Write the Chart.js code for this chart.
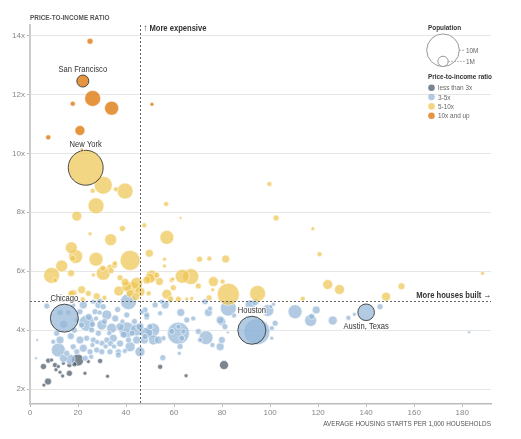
<!DOCTYPE html>
<html>
<head>
<meta charset="utf-8">
<script src="https://cdn.jsdelivr.net/npm/chart.js@4.4.1/dist/chart.umd.min.js"></script>
<style>
  html, body { margin: 0; padding: 0; background: #fff; }
  canvas { display: block; }
</style>
</head>
<body>
<canvas id="housingChart" width="521" height="439"></canvas>
<script>
// tick labels
const xTicks = [0, 20, 40, 60, 80, 100, 120, 140, 160, 180];
const yTicks = [2, 4, 6, 8, 10, 12, 14];

// guide lines drawn as dotted lines
const guideX = 46;
const guideY = 5;

// each point: [housing starts per 1,000 households, price-to-income ratio, population in millions]
const over10 = [
  [25.0, 13.8, 0.34], [26.1, 11.86, 2.4], [34.0, 11.53, 1.85], [17.8, 11.68, 0.24],
  [50.8, 11.66, 0.15], [20.8, 10.77, 0.94], [7.6, 10.54, 0.24], [21.5, 10.12, 0.15]
];

const from5to10 = [
  [30.5, 8.92, 3.05], [39.6, 8.72, 2.4], [26.1, 8.73, 0.24], [35.8, 8.78, 0.24],
  [27.5, 8.22, 2.4], [56.7, 8.28, 0.24], [62.7, 7.81, 0.08], [19.5, 7.87, 0.94],
  [25.0, 7.27, 0.15], [38.5, 7.45, 0.34], [33.6, 7.07, 1.36], [47.6, 7.56, 0.24],
  [57.0, 7.15, 1.85], [17.2, 6.8, 1.36], [19.0, 6.5, 1.85], [17.8, 6.44, 0.34],
  [27.5, 6.41, 1.85], [41.7, 6.37, 3.8], [49.7, 6.61, 0.6], [13.2, 6.18, 1.36],
  [9.0, 5.86, 2.4], [17.1, 5.93, 0.46], [30.5, 5.93, 1.85], [30.3, 6.1, 0.34],
  [33.3, 6.14, 0.34], [35.4, 6.27, 0.24], [26.4, 5.87, 0.15], [37.5, 5.78, 0.34],
  [10.4, 5.7, 0.24], [50.0, 5.76, 0.94], [52.8, 5.87, 0.34], [18.0, 5.25, 0.6],
  [21.5, 5.37, 0.6], [27.8, 5.15, 0.46], [24.3, 5.25, 0.34], [37.0, 5.33, 0.94],
  [40.3, 5.48, 0.94], [42.4, 5.42, 1.85], [45.8, 5.31, 0.94], [41.7, 5.25, 0.6],
  [44.4, 5.59, 1.36], [39.6, 5.63, 0.6], [48.6, 5.7, 0.6], [50.7, 5.84, 1.36],
  [53.9, 5.65, 0.6], [56.0, 6.41, 0.15], [56.0, 6.18, 0.15], [57.0, 5.22, 0.94],
  [59.0, 5.7, 0.24], [63.4, 5.83, 1.85], [67.0, 5.82, 2.4], [70.1, 5.5, 0.34],
  [70.6, 6.41, 0.34], [74.7, 6.43, 0.24], [76.4, 5.65, 0.94], [80.2, 5.65, 0.24],
  [81.5, 6.42, 0.6], [82.6, 5.22, 4.6], [94.8, 5.25, 2.4], [17.4, 5.22, 0.6],
  [33.8, 6.02, 0.34], [35.2, 6.2, 0.34], [44.0, 5.14, 0.6], [58.6, 5.06, 0.34],
  [61.8, 5.05, 0.34], [65.3, 5.06, 0.15], [67.4, 5.08, 0.15], [74.6, 5.1, 0.34],
  [59.7, 5.44, 0.34], [59.5, 5.74, 0.15], [76.1, 5.37, 0.15], [49.4, 5.25, 0.24],
  [102.5, 7.81, 0.34], [99.7, 8.96, 0.24], [117.8, 7.44, 0.15], [120.6, 6.58, 0.24],
  [188.5, 5.93, 0.15], [124.0, 5.55, 0.94], [128.9, 5.38, 0.94], [154.7, 5.49, 0.46],
  [148.3, 5.14, 0.76], [113.6, 5.07, 0.24], [22.0, 5.05, 0.24], [31.0, 5.1, 0.24]
];

const from3to5 = [
  // right of 90
  [94.5, 3.95, 6.4], [110.4, 4.63, 1.85], [119.2, 4.69, 0.6], [116.9, 4.33, 1.36],
  [117.3, 4.47, 0.34], [126.1, 4.33, 0.76], [132.6, 4.42, 0.24], [135.1, 4.54, 0.15],
  [145.8, 4.8, 0.34], [182.9, 3.93, 0.08], [101.4, 4.88, 0.15], [100.3, 4.8, 0.15],
  [99.0, 4.67, 1.36], [102.1, 4.24, 0.34], [100.7, 4.07, 0.24], [100.7, 3.73, 0.15],
  [91.7, 4.86, 0.94], [93.8, 4.95, 0.46],
  // 45 to 90
  [56.3, 4.86, 0.6], [54.2, 4.58, 0.24], [62.8, 4.6, 0.6], [65.3, 4.35, 0.34],
  [72.9, 4.97, 0.34], [74.3, 4.6, 0.6], [75.0, 4.74, 0.24], [82.6, 4.75, 2.4],
  [79.9, 4.29, 0.6], [81.2, 4.12, 0.34], [82.4, 3.92, 0.08], [61.8, 3.9, 4.6],
  [59.0, 3.96, 0.34], [63.2, 3.73, 0.34], [61.8, 4.12, 0.24], [63.9, 3.96, 0.24],
  [70.1, 3.96, 0.34], [73.3, 3.75, 1.85], [70.8, 3.67, 0.24], [51.1, 4.01, 1.85],
  [53.5, 3.67, 0.6], [55.6, 3.73, 0.24], [62.5, 3.45, 0.34], [62.2, 3.22, 0.15],
  [76.0, 3.5, 0.24], [79.9, 3.67, 0.46], [79.2, 3.44, 0.6], [55.3, 3.07, 0.34],
  [47.6, 3.67, 0.6], [48.6, 4.45, 0.34], [46.5, 4.62, 0.24], [54.9, 4.97, 0.24],
  [58.3, 5.0, 0.15], [79.2, 4.35, 0.6], [68.0, 4.4, 0.24], [85.0, 4.5, 0.24],
  // left of 45
  [7.0, 4.82, 0.34], [3.0, 3.67, 0.08], [2.5, 3.05, 0.08], [23.6, 4.24, 2.4],
  [29.9, 4.18, 0.94], [32.0, 4.52, 0.94], [27.1, 4.63, 0.34], [22.2, 4.86, 0.6],
  [28.5, 4.86, 0.46], [30.5, 4.8, 0.34], [34.0, 4.07, 0.94], [37.5, 4.12, 0.6],
  [40.3, 4.01, 2.4], [44.4, 4.01, 1.36], [48.6, 3.9, 1.36], [51.4, 3.67, 0.94],
  [47.9, 3.79, 0.34], [45.8, 4.12, 0.6], [50.0, 4.12, 0.34], [48.6, 4.52, 0.34],
  [47.9, 4.69, 0.34], [52.1, 4.86, 0.34], [44.4, 3.67, 0.6], [41.0, 3.67, 0.34],
  [41.7, 3.44, 0.94], [45.8, 3.27, 0.94], [36.8, 3.27, 0.34], [33.3, 3.27, 0.34],
  [36.8, 3.16, 0.34], [11.8, 3.33, 1.85], [13.9, 3.05, 0.6], [16.7, 3.02, 0.94],
  [15.3, 3.22, 0.34], [18.0, 3.44, 0.34], [12.5, 3.67, 0.6], [9.7, 3.61, 0.24],
  [11.1, 3.9, 0.34], [20.8, 3.67, 0.6], [23.6, 3.73, 0.34], [26.4, 3.67, 0.34],
  [28.5, 3.9, 0.34], [25.7, 4.01, 0.34], [30.0, 3.56, 0.34], [32.0, 3.67, 0.34],
  [34.7, 3.73, 0.6], [22.2, 3.39, 0.6], [25.0, 3.27, 0.34], [27.8, 3.33, 0.34],
  [29.9, 3.27, 0.34], [19.5, 3.27, 0.34], [21.5, 4.18, 0.34], [19.5, 4.35, 0.24],
  [20.8, 4.63, 0.34], [41.0, 4.97, 2.4], [40.3, 4.52, 0.34], [17.0, 3.8, 0.46],
  [18.5, 4.0, 0.34], [16.0, 4.6, 0.24], [24.5, 4.45, 0.46], [26.0, 4.2, 0.34],
  [27.5, 4.4, 0.24], [29.0, 4.6, 0.24], [31.0, 4.3, 0.34], [33.0, 3.9, 0.24],
  [35.5, 4.4, 0.46], [36.5, 4.7, 0.34], [38.5, 4.3, 0.24], [39.0, 3.85, 0.46],
  [42.5, 3.9, 0.34], [43.5, 4.3, 0.34], [26.0, 3.5, 0.24], [28.0, 3.6, 0.24],
  [31.5, 3.45, 0.24], [33.5, 3.55, 0.34], [35.0, 3.45, 0.24], [37.5, 3.55, 0.46],
  [39.5, 3.3, 0.24], [23.0, 3.05, 0.34], [25.5, 3.1, 0.24], [26.3, 4.97, 0.24],
  [29.0, 4.99, 0.34], [12.5, 4.6, 0.34], [14.0, 4.2, 0.6], [18.0, 4.85, 0.24]
];

const lessThan3 = [
  [5.6, 2.77, 0.34], [7.6, 2.97, 0.24], [9.0, 2.99, 0.15], [10.4, 2.82, 0.24],
  [10.8, 2.66, 0.15], [11.8, 2.77, 0.15], [13.9, 2.88, 0.15], [16.4, 2.82, 0.24],
  [18.5, 2.85, 0.24], [19.9, 2.99, 1.36], [16.4, 2.54, 0.34], [13.6, 2.45, 0.15],
  [12.5, 2.58, 0.15], [7.5, 2.26, 0.46], [5.8, 2.14, 0.15], [24.3, 2.94, 0.15],
  [29.2, 2.96, 0.24], [32.3, 2.44, 0.15], [54.2, 2.76, 0.24], [65.0, 2.46, 0.15],
  [80.8, 2.82, 0.76], [22.9, 2.54, 0.15]
];

// labelled metro areas: [name, x, y, population, group, label side]
const cities = [
  ['San Francisco', 22.0, 12.45, 1.36, 'over10', 'above'],
  ['New York', 23.2, 9.51, 11.5, 'from5to10', 'above'],
  ['Chicago', 14.3, 4.41, 7.4, 'from3to5', 'above'],
  ['Houston', 92.4, 4.0, 7.4, 'from3to5', 'above'],
  ['Austin, Texas', 140.0, 4.61, 2.6, 'from3to5', 'below']
];

const colors = {
  lessThan3: 'rgba(72, 86, 100, 0.72)',
  from3to5: 'rgba(145, 181, 215, 0.7)',
  from5to10: 'rgba(238, 196, 78, 0.7)',
  over10: 'rgba(220, 112, 0, 0.75)'
};

const legendItems = [
  ['less than 3x', 'lessThan3'],
  ['3-5x', 'from3to5'],
  ['5-10x', 'from5to10'],
  ['10x and up', 'over10']
];

const FONT = "'Liberation Sans', Arial, sans-serif";
const SQUEEZE = 0.8; // fake a condensed face

// bubble area proportional to population
function radius(pop) {
  return 5.15 * Math.sqrt(pop);
}

function toBubbles(points) {
  return points
    .slice()
    .sort((a, b) => b[2] - a[2]) // big ones first so small ones stay visible
    .map(p => ({ x: p[0], y: p[1], r: radius(p[2]) }));
}

function groupDataset(points, key) {
  return {
    data: toBubbles(points),
    backgroundColor: colors[key],
    borderColor: 'rgba(255, 255, 255, 0.7)',
    borderWidth: 0.8,
    clip: false
  };
}

// condensed text with optional white halo
function label(ctx, text, x, y, align, halo) {
  const w = ctx.measureText(text).width * SQUEEZE;
  let left = x;
  if (align === 'center') left = x - w / 2;
  if (align === 'right') left = x - w;
  ctx.save();
  ctx.translate(left, y);
  ctx.scale(SQUEEZE, 1);
  ctx.textAlign = 'left';
  ctx.textBaseline = 'middle';
  if (halo) {
    ctx.lineWidth = 2.5;
    ctx.strokeStyle = 'rgba(255,255,255,0.85)';
    ctx.strokeText(text, 0, 0);
  }
  ctx.fillText(text, 0, 0);
  ctx.restore();
}

const cityDataset = {
  data: cities.map(c => ({ x: c[1], y: c[2], r: radius(c[3]) })),
  backgroundColor: cities.map(c => colors[c[4]]),
  borderColor: 'rgba(60, 60, 60, 0.9)',
  borderWidth: 1,
  clip: false
};

const decor = {
  id: 'decor',
  afterDatasetsDraw(chart) {
    const ctx = chart.ctx;
    const a = chart.chartArea;
    const x = chart.scales.x;
    const y = chart.scales.y;
    ctx.save();

    // dotted guide lines
    ctx.strokeStyle = '#666';
    ctx.lineWidth = 1;
    ctx.setLineDash([2, 2]);
    const gx = Math.round(x.getPixelForValue(guideX)) + 0.5;
    ctx.beginPath();
    ctx.moveTo(gx, a.top);
    ctx.lineTo(gx, a.bottom);
    ctx.stroke();
    const gy = Math.round(y.getPixelForValue(guideY)) + 0.5;
    ctx.beginPath();
    ctx.moveTo(a.left, gy);
    ctx.lineTo(a.right, gy);
    ctx.stroke();
    ctx.setLineDash([]);

    // guide captions
    ctx.fillStyle = '#333';
    ctx.font = 'bold 9.5px ' + FONT;
    label(ctx, '\u2191 More expensive', gx + 3, a.top + 3.5, 'left');
    label(ctx, 'More houses built \u2192', a.right, gy - 6, 'right');

    // city labels
    ctx.font = '9.5px ' + FONT;
    cities.forEach(c => {
      const px = x.getPixelForValue(c[1]);
      const py = y.getPixelForValue(c[2]);
      const r = radius(c[3]);
      const ly = c[5] === 'above' ? py - r - 6 : py + r + 6;
      ctx.fillStyle = '#333';
      label(ctx, c[0], px, ly, 'center', true);
    });

    // axis titles
    ctx.fillStyle = '#555';
    ctx.font = 'bold 8px ' + FONT;
    label(ctx, 'PRICE-TO-INCOME RATIO', a.left, 18, 'left');
    ctx.font = '8px ' + FONT;
    label(ctx, 'AVERAGE HOUSING STARTS PER 1,000 HOUSEHOLDS', a.right, 424, 'right');

    // legend: population sizes
    const lx = 428;
    ctx.fillStyle = '#333';
    ctx.font = 'bold 8px ' + FONT;
    label(ctx, 'Population', lx, 28, 'left');

    const cx = 443;
    const base = 66.5;
    ctx.strokeStyle = '#999';
    ctx.lineWidth = 1;
    [10, 1].forEach(p => {
      const r = radius(p);
      ctx.beginPath();
      ctx.arc(cx, base - r, r, 0, Math.PI * 2);
      ctx.fillStyle = 'rgba(255,255,255,0.9)';
      ctx.fill();
      ctx.stroke();
    });
    ctx.setLineDash([1.5, 1.5]);
    ctx.beginPath();
    ctx.moveTo(cx + radius(10), base - radius(10));
    ctx.lineTo(cx + 22, base - radius(10));
    ctx.moveTo(cx + radius(1), base - radius(1));
    ctx.lineTo(cx + 22, base - radius(1));
    ctx.stroke();
    ctx.setLineDash([]);
    ctx.fillStyle = '#666';
    ctx.font = '8px ' + FONT;
    label(ctx, '10M', cx + 23, base - radius(10) + 0.5, 'left');
    label(ctx, '1M', cx + 23, base - radius(1) + 0.5, 'left');

    // legend: ratio colours
    ctx.fillStyle = '#333';
    ctx.font = 'bold 8px ' + FONT;
    label(ctx, 'Price-to-income ratio', lx, 77, 'left');
    ctx.font = '8px ' + FONT;
    legendItems.forEach((item, i) => {
      const iy = 87.7 + i * 9.35;
      ctx.beginPath();
      ctx.arc(431.5, iy, 3.3, 0, Math.PI * 2);
      ctx.fillStyle = colors[item[1]];
      ctx.fill();
      ctx.fillStyle = '#666';
      label(ctx, item[0], 438, iy + 0.5, 'left');
    });

    ctx.restore();
  }
};

const ctx = document.getElementById('housingChart').getContext('2d');
const housingChart = new Chart(ctx, {
  type: 'bubble',
  data: {
    datasets: [
      cityDataset,
      groupDataset(over10, 'over10'),
      groupDataset(from5to10, 'from5to10'),
      groupDataset(from3to5, 'from3to5'),
      groupDataset(lessThan3, 'lessThan3')
    ]
  },
  options: {
    responsive: false,
    animation: false,
    events: [],
    layout: { padding: { top: 25, right: 30, left: 0, bottom: 0 } },
    plugins: {
      legend: { display: false },
      tooltip: { enabled: false }
    },
    scales: {
      x: {
        type: 'linear',
        min: 0,
        max: 192,
        afterBuildTicks: s => { s.ticks = xTicks.map(v => ({ value: v })); },
        afterFit: s => { s.height = 35; },
        grid: { drawOnChartArea: false, drawTicks: true, tickLength: 3, color: '#bbb' },
        border: { color: '#bbb', width: 1.5 },
        ticks: { color: '#888', padding: 1, maxRotation: 0, font: { size: 8, family: FONT } }
      },
      y: {
        type: 'linear',
        min: 1.5,
        max: 14.35,
        afterBuildTicks: s => { s.ticks = yTicks.map(v => ({ value: v })); },
        afterFit: s => { s.width = 30; },
        grid: { color: '#e6e6e6', tickLength: 3, tickColor: '#bbb' },
        border: { color: '#ccc', width: 2 },
        ticks: {
          color: '#888',
          padding: 2,
          font: { size: 8, family: FONT },
          callback: v => v + 'x'
        }
      }
    }
  },
  plugins: [decor]
});
</script>
</body>
</html>
